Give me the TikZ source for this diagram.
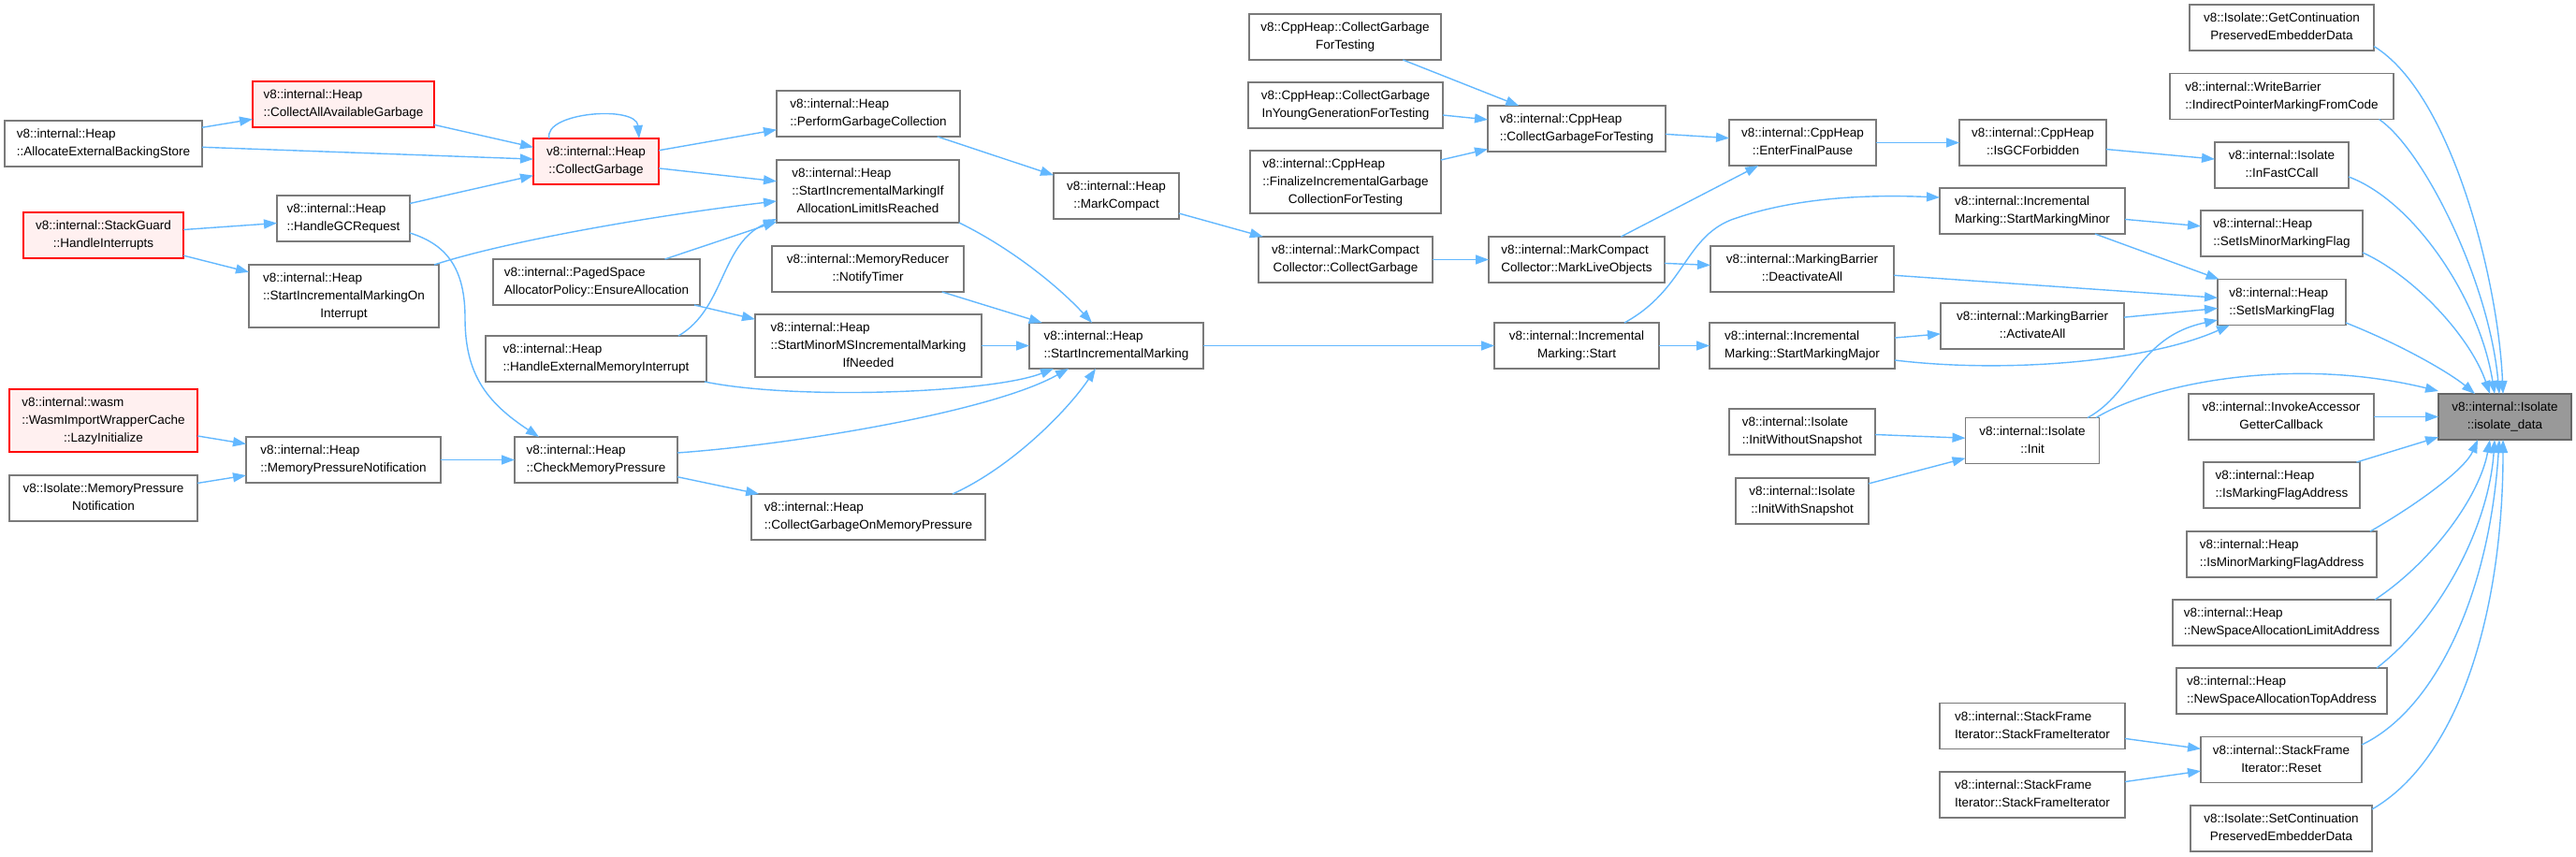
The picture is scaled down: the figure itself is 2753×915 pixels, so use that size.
\documentclass[tikz,border=0pt]{standalone}
\usepackage{fontspec}
\setmainfont{Liberation Sans}
\usetikzlibrary{arrows.meta}
\definecolor{edgeblue}{HTML}{63B8FF}
\definecolor{bordergray}{HTML}{7A7A7A}
\definecolor{redfill}{HTML}{FFF0F0}
\definecolor{rootfill}{HTML}{999999}
\definecolor{rootdraw}{HTML}{666666}
\newcommand{\twol}[2]{\begin{tabular}{@{}l@{}}#1\\\multicolumn{1}{@{}c@{}}{#2}\end{tabular}}
\newcommand{\threel}[3]{\begin{tabular}{@{}l@{}}#1\\#2\\\multicolumn{1}{@{}c@{}}{#3}\end{tabular}}
\tikzset{
  fn/.style={draw=bordergray, fill=white, line width=1.5pt, inner sep=0pt, outer sep=0pt,
    font=\fontsize{13.5}{19}\selectfont, minimum height=49pt},
  fnred/.style={fn, draw=red, fill=redfill},
  fnroot/.style={fn, draw=rootdraw, fill=rootfill},
  tall/.style={minimum height=67pt},
  edge/.style={draw=edgeblue, line width=1.4pt, -{Triangle[length=14pt,width=10pt]}}
}
\begin{document}
\begin{tikzpicture}[x=1pt,y=-1pt]
\useasboundingbox (0,0) rectangle (2753,915);
% column 1
\node[fn, minimum width=211pt] (N1) at (110.5,153.5) {\twol{v8::internal::Heap}{::AllocateExternalBackingStore}};
\node[fnred, minimum width=171pt] (N5) at (110.5,251.5) {\twol{v8::internal::StackGuard}{::HandleInterrupts}};
\node[fnred, tall, minimum width=201pt] (N9) at (110.5,449.5) {\threel{v8::internal::wasm}{::WasmImportWrapperCache}{::LazyInitialize}};
\node[fn, minimum width=201pt] (N11) at (110.5,532.5) {\twol{v8::Isolate::MemoryPressure}{Notification}};
% column 2
\node[fnred, minimum width=194pt] (N2) at (367,111.5) {\twol{v8::internal::Heap}{::CollectAllAvailableGarbage}};
\node[fn, minimum width=142pt] (N4) at (367,233.5) {\twol{v8::internal::Heap}{::HandleGCRequest}};
\node[fn, tall, minimum width=203pt] (N6) at (367.5,316.5) {\threel{v8::internal::Heap}{::StartIncrementalMarkingOn}{Interrupt}};
\node[fn, minimum width=208pt] (N10) at (367,491.5) {\twol{v8::internal::Heap}{::MemoryPressureNotification}};
% column 3
\node[fnred, minimum width=134pt] (N3) at (637,172.5) {\twol{v8::internal::Heap}{::CollectGarbage}};
\node[fn, minimum width=221pt] (N7) at (637.5,301.5) {\twol{v8::internal::PagedSpace}{AllocatorPolicy::EnsureAllocation}};
\node[fn, minimum width=236pt] (N8) at (637,383.5) {\twol{v8::internal::Heap}{::HandleExternalMemoryInterrupt}};
\node[fn, minimum width=174pt] (N12) at (637,491.5) {\twol{v8::internal::Heap}{::CheckMemoryPressure}};
% column 4
\node[fn, minimum width=196pt] (N13) at (928,121.5) {\twol{v8::internal::Heap}{::PerformGarbageCollection}};
\node[fn, tall, minimum width=195pt] (N14) at (927.5,204.5) {\threel{v8::internal::Heap}{::StartIncrementalMarkingIf}{AllocationLimitIsReached}};
\node[fn, minimum width=205pt] (N15) at (927.5,287.5) {\twol{v8::internal::MemoryReducer}{::NotifyTimer}};
\node[fn, tall, minimum width=242pt] (N16) at (928,369.5) {\threel{v8::internal::Heap}{::StartMinorMSIncrementalMarking}{IfNeeded}};
\node[fn, minimum width=250pt] (N17) at (928,552.5) {\twol{v8::internal::Heap}{::CollectGarbageOnMemoryPressure}};
% column 5
\node[fn, minimum width=134pt] (N18) at (1193,209.5) {\twol{v8::internal::Heap}{::MarkCompact}};
\node[fn, minimum width=186pt] (N19) at (1193,369.5) {\twol{v8::internal::Heap}{::StartIncrementalMarking}};
% column 6
\node[fn, minimum width=205pt] (N20) at (1437.5,39.5) {\twol{v8::CppHeap::CollectGarbage}{ForTesting}};
\node[fn, minimum width=208pt] (N21) at (1438,112.5) {\twol{v8::CppHeap::CollectGarbage}{InYoungGenerationForTesting}};
\node[fn, tall, minimum width=204pt] (N22) at (1438,194.5) {\threel{v8::internal::CppHeap}{::FinalizeIncrementalGarbage}{CollectionForTesting}};
\node[fn, minimum width=186pt] (N23) at (1438,277.5) {\twol{v8::internal::MarkCompact}{Collector::CollectGarbage}};
% column 7
\node[fn, minimum width=190pt] (N24) at (1685,137.5) {\twol{v8::internal::CppHeap}{::CollectGarbageForTesting}};
\node[fn, minimum width=188pt] (N25) at (1685,277.5) {\twol{v8::internal::MarkCompact}{Collector::MarkLiveObjects}};
\node[fn, minimum width=176pt] (N26) at (1685,369.5) {\twol{v8::internal::Incremental}{Marking::Start}};
% column 8
\node[fn, minimum width=157pt] (N27) at (1926.5,152.5) {\twol{v8::internal::CppHeap}{::EnterFinalPause}};
\node[fn, minimum width=196pt] (N28) at (1926,287.5) {\twol{v8::internal::MarkingBarrier}{::DeactivateAll}};
\node[fn, minimum width=198pt] (N29) at (1926,369.5) {\twol{v8::internal::Incremental}{Marking::StartMarkingMajor}};
\node[fn, minimum width=156pt] (N30) at (1926,461.5) {\twol{v8::internal::Isolate}{::InitWithoutSnapshot}};
\node[fn, minimum width=142pt] (N31) at (1926,535.5) {\twol{v8::internal::Isolate}{::InitWithSnapshot}};
% column 9
\node[fn, minimum width=157pt] (N32) at (2172.5,152.5) {\twol{v8::internal::CppHeap}{::IsGCForbidden}};
\node[fn, minimum width=198pt] (N33) at (2172,225.5) {\twol{v8::internal::Incremental}{Marking::StartMarkingMinor}};
\node[fn, minimum width=196pt] (N34) at (2172,348.5) {\twol{v8::internal::MarkingBarrier}{::ActivateAll}};
\node[fn, minimum width=143pt] (N35) at (2172,471) {\twol{v8::internal::Isolate}{::Init}};
\node[fn, minimum width=198pt] (N36) at (2172,776) {\twol{v8::internal::StackFrame}{Iterator::StackFrameIterator}};
\node[fn, minimum width=198pt] (N37) at (2172,849.5) {\twol{v8::internal::StackFrame}{Iterator::StackFrameIterator}};
% column 10
\node[fn, minimum width=197pt] (N38) at (2438.5,29.5) {\twol{v8::Isolate::GetContinuation}{PreservedEmbedderData}};
\node[fn, minimum width=239pt] (N39) at (2438.5,103) {\twol{v8::internal::WriteBarrier}{::IndirectPointerMarkingFromCode}};
\node[fn, minimum width=143pt] (N40) at (2438.5,176.5) {\twol{v8::internal::Isolate}{::InFastCCall}};
\node[fn, minimum width=173pt] (N41) at (2438.5,249.5) {\twol{v8::internal::Heap}{::SetIsMinorMarkingFlag}};
\node[fn, minimum width=137pt] (N42) at (2438.5,323) {\twol{v8::internal::Heap}{::SetIsMarkingFlag}};
\node[fn, minimum width=198pt] (N43) at (2438,445.5) {\twol{v8::internal::InvokeAccessor}{GetterCallback}};
\node[fn, minimum width=167pt] (N44) at (2438.5,518.5) {\twol{v8::internal::Heap}{::IsMarkingFlagAddress}};
\node[fn, minimum width=203pt] (N45) at (2438.5,592.5) {\twol{v8::internal::Heap}{::IsMinorMarkingFlagAddress}};
\node[fn, minimum width=233pt] (N46) at (2438.5,665.5) {\twol{v8::internal::Heap}{::NewSpaceAllocationLimitAddress}};
\node[fn, minimum width=225pt] (N47) at (2438.5,738.5) {\twol{v8::internal::Heap}{::NewSpaceAllocationTopAddress}};
\node[fn, minimum width=172pt] (N48) at (2438,812) {\twol{v8::internal::StackFrame}{Iterator::Reset}};
\node[fn, minimum width=194pt] (N49) at (2438,885.5) {\twol{v8::Isolate::SetContinuation}{PreservedEmbedderData}};
% root
\node[fnroot, minimum width=142pt] (N50) at (2677,445.5) {\twol{v8::internal::Isolate}{::isolate\_data}};

% straight edges
\draw[edge] (N1) -- (N2);
\draw[edge] (N1) -- (N3);
\draw[edge] (N2) -- (N3);
\draw[edge] (N4) -- (N3);
\draw[edge] (N5) -- (N4);
\draw[edge] (N5) -- (N6);
\draw[edge] (N9) -- (N10);
\draw[edge] (N11) -- (N10);
\draw[edge] (N10) -- (N12);
\draw[edge] (N12) -- (N17);
\draw[edge] (N3) -- (N13);
\draw[edge] (N3) -- (N14);
\draw[edge] (N7) -- (N14);
\draw[edge] (N7) -- (N16);
\draw[edge] (N15) -- (N19);
\draw[edge] (N16) -- (N19);
\draw[edge] (N13) -- (N18);
\draw[edge] (N18) -- (N23);
\draw[edge] (N19) -- (N26);
\draw[edge] (N23) -- (N25);
\draw[edge] (N20) -- (N24);
\draw[edge] (N21) -- (N24);
\draw[edge] (N22) -- (N24);
\draw[edge] (N24) -- (N27);
\draw[edge] (N25) -- (N27);
\draw[edge] (N25) -- (N28);
\draw[edge] (N26) -- (N29);
\draw[edge] (N27) -- (N32);
\draw[edge] (N32) -- (N40);
\draw[edge] (N33) -- (N41);
\draw[edge] (N33) -- (N42);
\draw[edge] (N28) -- (N42);
\draw[edge] (N34) -- (N42);
\draw[edge] (N29) -- (N34);
\draw[edge] (N30) -- (N35);
\draw[edge] (N31) -- (N35);
\draw[edge] (N43) -- (N50);
\draw[edge] (N44) -- (N50);
\draw[edge] (N36) -- (N48);
\draw[edge] (N37) -- (N48);

% curved edges
\draw[edge] ([shift={(-50,0)}]N3.north) .. controls (580,120) and (680,112) .. ([shift={(46,0)}]N3.north);
\draw[edge] ([shift={(0,15.5)}]N4.east) .. controls (480,262) and (497,290) .. (497,340) .. controls (497,400) and (520,430) .. ([shift={(-61,0)}]N12.north);
\draw[edge] ([shift={(96.5,0)}]N6.north) .. controls (540,258) and (700,230) .. ([shift={(0,10.5)}]N14.west);
\draw[edge] ([shift={(88,0)}]N8.north) .. controls (775,330) and (770,260) .. ([shift={(0,29.5)}]N14.west);
\draw[edge] ([shift={(-2,0)}]N8.south east) .. controls (850,428) and (1060,420) .. ([shift={(-67,0)}]N19.south);
\draw[edge] ([shift={(0,-7.5)}]N12.east) .. controls (850,475) and (1060,440) .. ([shift={(-51,0)}]N19.south);
\draw[edge] ([shift={(90,0)}]N17.north) .. controls (1080,500) and (1140,440) .. ([shift={(-22,0)}]N19.south);
\draw[edge] (N14.south east) .. controls (1080,265) and (1130,305) .. ([shift={(-26,0)}]N19.north);
\draw[edge] ([shift={(51,0)}]N26.north) .. controls (1800,310) and (1800,255) .. (1850,235) .. controls (1920,210) and (2000,208) .. ([shift={(0,-14.5)}]N33.west);
\draw[edge] ([shift={(0,15.5)}]N29.east) .. controls (2150,400) and (2300,385) .. ([shift={(-55.5,0)}]N42.south);
\draw[edge] ([shift={(59,0)}]N35.north) .. controls (2280,420) and (2285,360) .. ([shift={(0,19)}]N42.west);
\draw[edge] ([shift={(68,0)}]N35.north) .. controls (2300,410) and (2450,380) .. ([shift={(0,-27.5)}]N50.west);
% into root from above
\draw[edge] ([shift={(0,20)}]N38.east) .. controls (2620,100) and (2670,300) .. ([shift={(-2,0)}]N50.north);
\draw[edge] ([shift={(104,0)}]N39.south) .. controls (2590,160) and (2660,300) .. ([shift={(-6,0)}]N50.north);
\draw[edge] ([shift={(0,12.5)}]N40.east) .. controls (2580,215) and (2650,320) .. ([shift={(-11,0)}]N50.north);
\draw[edge] ([shift={(0,20.5)}]N41.east) .. controls (2580,295) and (2640,360) .. ([shift={(-16,0)}]N50.north);
\draw[edge] ([shift={(0,22)}]N42.east) .. controls (2570,370) and (2620,400) .. ([shift={(-32,0)}]N50.north);
% into root from below
\draw[edge] ([shift={(94.5,0)}]N45.north) .. controls (2590,535) and (2635,500) .. ([shift={(-29,0)}]N50.south);
\draw[edge] ([shift={(99.5,0)}]N46.north) .. controls (2600,600) and (2650,530) .. ([shift={(-16,0)}]N50.south);
\draw[edge] ([shift={(101.5,0)}]N47.north) .. controls (2610,660) and (2660,560) .. ([shift={(-11,0)}]N50.south);
\draw[edge] ([shift={(0,-16)}]N48.east) .. controls (2600,760) and (2660,640) .. ([shift={(-6,0)}]N50.south);
\draw[edge] ([shift={(0,-20.5)}]N49.east) .. controls (2630,810) and (2675,650) .. ([shift={(-2,0)}]N50.south);
\end{tikzpicture}
\end{document}
